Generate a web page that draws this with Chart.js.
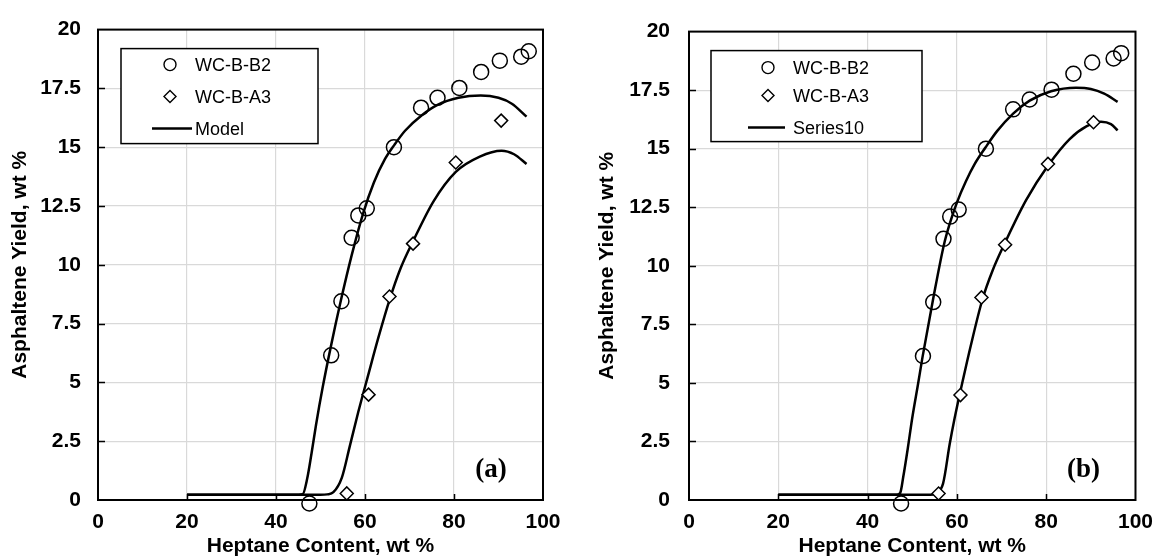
<!DOCTYPE html>
<html>
<head>
<meta charset="utf-8">
<script src="https://cdn.jsdelivr.net/npm/chart.js@4/dist/chart.umd.min.js"></script>
<style>
  body { margin: 0; background: #fff; }
  .wrap { display: flex; width: 1163px; height: 559px; }
  canvas { display: block; }
</style>
</head>
<body>
<div class="wrap">
  <canvas id="panelA" width="581" height="559"></canvas>
  <canvas id="panelB" width="582" height="559"></canvas>
</div>
<script>
// measured points (same in both panels)
const heptaneB2 = [47.5, 52.4, 54.7, 57.0, 58.5, 60.4, 66.5, 72.6, 76.3, 81.2, 86.1, 90.3, 95.1, 96.8]
const yieldB2 = [-0.15, 6.15, 8.45, 11.15, 12.1, 12.4, 15.0, 16.68, 17.1, 17.52, 18.2, 18.68, 18.85, 19.08]
const heptaneA3 = [55.9, 60.8, 65.5, 70.8, 80.4, 90.6]
const yieldA3 = [0.28, 4.48, 8.65, 10.9, 14.35, 16.13]

// model curves, panel (a)
const modelB2xA = [20, 44, 46, 47, 48, 49, 50.5, 52.3, 54.6, 57, 59.6, 62, 64.5, 66.6, 69, 72.7, 76.3, 81, 86, 90, 93, 96.3]
const modelB2yA = [0.22, 0.22, 0.25, 0.9, 2.0, 3.2, 4.8, 6.5, 8.5, 10.4, 12.2, 13.5, 14.5, 15.1, 15.7, 16.35, 16.8, 17.1, 17.2, 17.1, 16.85, 16.3]
const modelA3xA = [20, 50, 51.5, 52.9, 54.8, 56.6, 58.5, 60.7, 63, 65.5, 68, 70.8, 75.4, 80.4, 85.8, 90.7, 93.5, 96.3]
const modelA3yA = [0.22, 0.22, 0.24, 0.33, 0.95, 2.3, 3.75, 5.3, 6.9, 8.5, 9.85, 11.0, 12.7, 13.95, 14.6, 14.85, 14.7, 14.29]

// model curves, panel (b)
const modelB2xB = [20, 46.5, 47.3, 48, 49, 50, 51.3, 52.3, 54.7, 57.1, 58.4, 60, 62, 64, 66.4, 69, 72.6, 76.3, 81.1, 86.7, 90, 93, 96]
const modelB2yB = [0.22, 0.22, 0.3, 1.0, 2.2, 3.5, 4.95, 6.1, 8.6, 10.9, 11.8, 12.7, 13.6, 14.35, 15.05, 15.75, 16.5, 17.05, 17.45, 17.6, 17.55, 17.35, 17.0]
const modelA3xB = [20, 54, 55.3, 56.9, 58.4, 59.5, 60.5, 61.5, 63, 65.7, 68, 70.7, 75.5, 80.5, 85.2, 89, 92.3, 94.5, 96]
const modelA3yB = [0.22, 0.22, 0.28, 0.7, 2.4, 3.5, 4.4, 5.25, 6.5, 8.55, 9.8, 10.95, 12.8, 14.3, 15.4, 15.95, 16.15, 16.05, 15.78]

const xTicks = [0, 20, 40, 60, 80, 100]
const yTicks = [0, 2.5, 5, 7.5, 10, 12.5, 15, 17.5, 20]
const legendNames = ['WC-B-B2', 'WC-B-A3']

const SANS = 'Arial, "Liberation Sans", sans-serif'

function pts(xs, ys) {
    return xs.map(function (v, i) { return { x: v, y: ys[i] } })
}

// frame, inside ticks, panel tag and legend box
const framePlugin = {
    id: 'frame',
    beforeDatasetsDraw(chart, args, opts) {
        const ctx = chart.ctx, a = chart.chartArea
        const sx = chart.scales.x, sy = chart.scales.y
        ctx.save()
        ctx.strokeStyle = '#000'
        ctx.lineWidth = 1.5
        ctx.beginPath()
        xTicks.slice(1, -1).forEach(function (v) {
            const px = Math.round(sx.getPixelForValue(v)) + 0.5
            ctx.moveTo(px, a.bottom); ctx.lineTo(px, a.bottom - 6)
        })
        yTicks.slice(1, -1).forEach(function (v) {
            const py = Math.round(sy.getPixelForValue(v)) + 0.5
            ctx.moveTo(a.left, py); ctx.lineTo(a.left + 7, py)
        })
        ctx.stroke()
        ctx.lineWidth = 2
        ctx.strokeRect(a.left, a.top, a.right - a.left, a.bottom - a.top)
        ctx.restore()
    },
    afterDraw(chart, args, opts) {
        const ctx = chart.ctx, a = chart.chartArea
        ctx.save()
        // (a) / (b)
        ctx.fillStyle = '#000'
        ctx.font = 'bold 27px "Liberation Serif", "Times New Roman", serif'
        ctx.textAlign = 'center'
        ctx.textBaseline = 'middle'
        ctx.fillText(opts.tag, a.right - 52, a.bottom - 30)

        // legend
        const bx = a.left + opts.box[0], by = a.top + opts.box[1]
        const bw = opts.box[2], bh = opts.box[3]
        ctx.fillStyle = '#fff'
        ctx.fillRect(bx, by, bw, bh)
        ctx.strokeStyle = '#000'
        ctx.lineWidth = 1.5
        ctx.strokeRect(bx, by, bw, bh)

        const symX = bx + opts.symX, txtX = bx + opts.txtX
        const rows = opts.rows.map(function (r) { return by + r })
        ctx.lineWidth = 1.4
        ctx.beginPath()
        ctx.arc(symX, rows[0], 6, 0, Math.PI * 2)
        ctx.stroke()
        ctx.beginPath()
        ctx.moveTo(symX, rows[1] - 6); ctx.lineTo(symX + 6, rows[1])
        ctx.lineTo(symX, rows[1] + 6); ctx.lineTo(symX - 6, rows[1])
        ctx.closePath()
        ctx.stroke()
        ctx.lineWidth = 2.5
        ctx.beginPath()
        ctx.moveTo(bx + opts.line[0], rows[2]); ctx.lineTo(bx + opts.line[1], rows[2])
        ctx.stroke()

        ctx.fillStyle = '#000'
        ctx.font = '18px ' + SANS
        ctx.textAlign = 'left'
        ctx.textBaseline = 'middle'
        ctx.fillText(legendNames[0], txtX, rows[0] + 1)
        ctx.fillText(legendNames[1], txtX, rows[1] + 1)
        ctx.fillText(opts.modelName, txtX, rows[2] + 1)
        ctx.restore()
    }
}

function makePanel(id, cfg) {
    const tickFont = { family: SANS, size: 21, weight: 'bold' }
    new Chart(document.getElementById(id), {
        type: 'scatter',
        data: {
            datasets: [{
                label: legendNames[0],
                data: pts(heptaneB2, yieldB2),
                pointStyle: 'circle',
                pointRadius: 7.5,
                borderColor: '#000',
                backgroundColor: 'rgba(0,0,0,0)',
                borderWidth: 1.5,
                clip: false
            }, {
                label: legendNames[1],
                data: pts(heptaneA3, yieldA3),
                pointStyle: 'rectRot',
                pointRadius: 6.5,
                borderColor: '#000',
                backgroundColor: '#fff',
                borderWidth: 1.5,
                clip: false
            }, {
                label: cfg.modelName,
                data: pts(cfg.b2x, cfg.b2y),
                showLine: true,
                pointRadius: 0,
                borderColor: '#000',
                borderWidth: 2.5,
                cubicInterpolationMode: 'monotone'
            }, {
                label: cfg.modelName,
                data: pts(cfg.a3x, cfg.a3y),
                showLine: true,
                pointRadius: 0,
                borderColor: '#000',
                borderWidth: 2.5,
                cubicInterpolationMode: 'monotone'
            }]
        },
        options: {
            responsive: false,
            animation: false,
            layout: { padding: cfg.padding },
            plugins: {
                legend: { display: false },
                tooltip: { enabled: false },
                frame: cfg.frame
            },
            scales: {
                x: {
                    min: 0, max: 100,
                    afterBuildTicks: function (s) { s.ticks = xTicks.map(function (v) { return { value: v } }) },
                    afterFit: function (s) { s.height = 59 },
                    ticks: { font: tickFont, color: '#000', padding: 10 },
                    grid: { color: '#d9d9d9', lineWidth: 1.2, drawTicks: false },
                    border: { display: false },
                    title: {
                        display: true, text: 'Heptane Content, wt %',
                        font: tickFont, color: '#000', padding: { top: 0, bottom: 0 }
                    }
                },
                y: {
                    min: 0, max: 20,
                    afterBuildTicks: function (s) { s.ticks = yTicks.map(function (v) { return { value: v } }) },
                    afterFit: function (s) { s.width = cfg.yWidth },
                    ticks: { font: tickFont, color: '#000', padding: cfg.yPad },
                    grid: { color: '#d9d9d9', lineWidth: 1.2, drawTicks: false },
                    border: { display: false },
                    title: {
                        display: true, text: 'Asphaltene Yield, wt %',
                        font: tickFont, color: '#000', padding: { top: cfg.titlePad, bottom: 0 }
                    }
                }
            }
        },
        plugins: [framePlugin]
    })
}

makePanel('panelA', {
    modelName: 'Model',
    b2x: modelB2xA, b2y: modelB2yA, a3x: modelA3xA, a3y: modelA3yA,
    padding: { top: 19, right: 38, bottom: 0, left: 0 },
    yWidth: 98, yPad: 17, titlePad: 8,
    frame: { tag: '(a)', modelName: 'Model', box: [23, 19, 197, 95], symX: 49, txtX: 74, line: [31, 71], rows: [16, 48, 80] }
})

makePanel('panelB', {
    modelName: 'Series10',
    b2x: modelB2xB, b2y: modelB2yB, a3x: modelA3xB, a3y: modelA3yB,
    padding: { top: 18, right: 27, bottom: 0, left: 0 },
    yWidth: 108, yPad: 19, titlePad: 14,
    frame: { tag: '(b)', modelName: 'Series10', box: [22, 19, 211, 91], symX: 57, txtX: 82, line: [37, 74], rows: [17, 45, 77] }
})
</script>
</body>
</html>
